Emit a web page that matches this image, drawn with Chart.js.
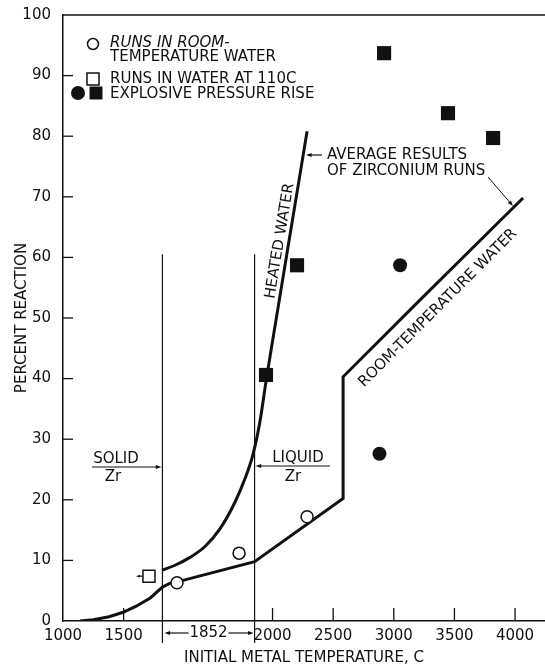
<!DOCTYPE html>
<html>
<head>
<meta charset="utf-8">
<script src="https://cdn.jsdelivr.net/npm/chart.js@4/dist/chart.umd.min.js"></script>
<style>
  html, body { margin: 0; padding: 0; background: #fff; }
</style>
</head>
<body>
<canvas id="grafico" width="545" height="669"></canvas>
<script>
// Eje X en "unidades de eje": la fusión del Zr (1852 C) ocupa una franja ancha
// entre MELT_START (sólido) y MELT_END (líquido); por encima se suma el salto.
const X_MIN = 1000;
const X_MAX = 4975;
const MELT_START = 1820;
const MELT_END = 2580;

// Ticks del eje X (posición en el eje y su etiqueta en grados C)
const xTickPos = [1000, 1500, 2728, 3228, 3728, 4228, 4728];
const xTickLabels = ['1000', '1500', '2000', '2500', '3000', '3500', '4000'];
const yTicks = [0, 10, 20, 30, 40, 50, 60, 70, 80, 90, 100];

// Curva promedio: agua calentada
const heatedX = [1816, 1924, 2047, 2171, 2294, 2418, 2501, 2567, 2625, 2674, 2748, 2872, 3013];
const heatedY = [8.4, 9.2, 10.5, 12.3, 15.2, 19.6, 23.5, 27.5, 33, 39.5, 48.6, 63.7, 80.8];

// Curva promedio: agua a temperatura ambiente
const roomX = [1140, 1250, 1380, 1490, 1600, 1720, 1820, 1880, 1950, 2580, 3310, 3310, 3945, 4794];
const roomY = [0, 0.2, 0.7, 1.4, 2.4, 3.8, 5.6, 6.2, 6.5, 9.8, 20.2, 40.3, 53, 69.8];

// Ensayos en agua a temperatura ambiente (círculos abiertos)
const roomRunsX = [1940, 2452, 3013];
const roomRunsY = [6.3, 11.2, 17.2];

// Ensayo en agua a 110 C (cuadrado abierto)
const hotRunsX = [1709];
const hotRunsY = [7.4];

// Subida explosiva de presión
const explSquaresX = [2674, 2930, 3648, 4175, 4547];
const explSquaresY = [40.6, 58.7, 93.7, 83.8, 79.7];
const explCirclesX = [3780, 3610];
const explCirclesY = [58.7, 27.6];

const FONT = '"DejaVu Sans", sans-serif';
const INK = '#111';

function puntos(xs, ys) {
  return xs.map((x, i) => ({ x: x, y: ys[i] }));
}

// Dibuja una línea con punta de flecha en (x2, y2)
function flecha(ctx, x1, y1, x2, y2, head) {
  head = head || 6;
  const ang = Math.atan2(y2 - y1, x2 - x1);
  ctx.beginPath();
  ctx.moveTo(x1, y1);
  ctx.lineTo(x2 - Math.cos(ang) * head * 0.8, y2 - Math.sin(ang) * head * 0.8);
  ctx.stroke();
  ctx.beginPath();
  ctx.moveTo(x2, y2);
  ctx.lineTo(x2 - head * Math.cos(ang - 0.35), y2 - head * Math.sin(ang - 0.35));
  ctx.lineTo(x2 - head * Math.cos(ang + 0.35), y2 - head * Math.sin(ang + 0.35));
  ctx.closePath();
  ctx.fill();
}

function texto(ctx, str, x, y, align, font) {
  ctx.font = font || ('15px ' + FONT);
  ctx.textAlign = align || 'center';
  ctx.textBaseline = 'middle';
  ctx.fillText(str, x, y);
}

// Marco superior, marcas interiores, leyenda y anotaciones
const anotaciones = {
  id: 'anotaciones',
  afterDraw(chart) {
    const ctx = chart.ctx;
    const xs = chart.scales.x;
    const ys = chart.scales.y;
    const area = chart.chartArea;
    ctx.save();
    ctx.strokeStyle = INK;
    ctx.fillStyle = INK;

    // línea superior del marco
    ctx.lineWidth = 1.5;
    ctx.beginPath();
    ctx.moveTo(area.left, area.top);
    ctx.lineTo(area.right, area.top);
    ctx.stroke();

    // marcas hacia dentro
    ctx.lineWidth = 1.3;
    yTicks.slice(1, -1).forEach(v => {
      const py = ys.getPixelForValue(v);
      ctx.beginPath();
      ctx.moveTo(area.left, py);
      ctx.lineTo(area.left + 10, py);
      ctx.stroke();
    });
    xTickPos.slice(1).forEach(v => {
      const px = xs.getPixelForValue(v);
      ctx.beginPath();
      ctx.moveTo(px, area.bottom);
      ctx.lineTo(px, area.bottom - 13);
      ctx.stroke();
    });

    // líneas de sólido / líquido
    ctx.lineWidth = 1.2;
    [MELT_START, MELT_END].forEach(v => {
      const px = xs.getPixelForValue(v);
      ctx.beginPath();
      ctx.moveTo(px, ys.getPixelForValue(60.5));
      ctx.lineTo(px, area.bottom + 22);
      ctx.stroke();
    });
    const sx = xs.getPixelForValue(MELT_START);
    const lx = xs.getPixelForValue(MELT_END);

    texto(ctx, 'SOLID', 116, 459);
    texto(ctx, 'Zr', 113, 477);
    flecha(ctx, 92, 467, sx - 1, 467);
    texto(ctx, 'LIQUID', 298, 458);
    texto(ctx, 'Zr', 293, 477);
    flecha(ctx, 330, 466, lx + 1, 466);

    const my = area.bottom + 12;
    const mx = (sx + lx) / 2;
    texto(ctx, '1852', mx, my);
    flecha(ctx, mx - 20, my, sx + 2, my);
    flecha(ctx, mx + 20, my, lx - 1, my);

    // flecha del cuadrado abierto
    const qx = xs.getPixelForValue(hotRunsX[0]);
    const qy = ys.getPixelForValue(hotRunsY[0]);
    flecha(ctx, qx - 6, qy, qx - 13, qy, 4);

    // rótulos de las curvas
    ctx.save();
    ctx.translate(280, 241);
    ctx.rotate(-80.5 * Math.PI / 180);
    texto(ctx, 'HEATED WATER', 0, 0);
    ctx.restore();

    ctx.save();
    ctx.translate(438, 308);
    ctx.rotate(-45 * Math.PI / 180);
    texto(ctx, 'ROOM-TEMPERATURE WATER', 0, 0);
    ctx.restore();

    texto(ctx, 'AVERAGE RESULTS', 327, 155, 'left');
    texto(ctx, 'OF ZIRCONIUM RUNS', 327, 171, 'left');
    flecha(ctx, 322, 155, 306, 155);
    ctx.lineWidth = 1;
    flecha(ctx, 488, 177, 513, 206);

    // leyenda
    ctx.lineWidth = 1.5;
    ctx.fillStyle = '#fff';
    ctx.beginPath();
    ctx.arc(93, 44, 5.5, 0, Math.PI * 2);
    ctx.fill();
    ctx.stroke();
    ctx.fillRect(87, 73, 12, 12);
    ctx.strokeRect(87, 73, 12, 12);
    ctx.fillStyle = INK;
    ctx.beginPath();
    ctx.arc(78, 93, 7, 0, Math.PI * 2);
    ctx.fill();
    ctx.fillRect(89.5, 86.5, 13, 13);

    texto(ctx, 'RUNS IN ROOM-', 110, 43, 'left', 'oblique 15px ' + FONT);
    texto(ctx, 'TEMPERATURE WATER', 110, 57, 'left');
    texto(ctx, 'RUNS IN WATER AT 110C', 110, 79, 'left');
    texto(ctx, 'EXPLOSIVE PRESSURE RISE', 110, 94, 'left');

    ctx.restore();
  }
};

const ctx = document.getElementById('grafico').getContext('2d');

window.graficoZr = new Chart(ctx, {
  type: 'scatter',
  data: {
    datasets: [
      {
        label: 'Runs in room-temperature water',
        data: puntos(roomRunsX, roomRunsY),
        pointStyle: 'circle',
        pointRadius: 6,
        pointBackgroundColor: '#fff',
        pointBorderColor: INK,
        pointBorderWidth: 1.5,
      },
      {
        label: 'Runs in water at 110C',
        data: puntos(hotRunsX, hotRunsY),
        pointStyle: 'rect',
        pointRadius: 8.5,
        pointBackgroundColor: '#fff',
        pointBorderColor: INK,
        pointBorderWidth: 1.5,
      },
      {
        label: 'Explosive pressure rise',
        data: puntos(explSquaresX, explSquaresY),
        pointStyle: 'rect',
        pointRadius: 10,
        pointBackgroundColor: INK,
        pointBorderColor: INK,
        pointBorderWidth: 0,
      },
      {
        label: 'Explosive pressure rise (circles)',
        data: puntos(explCirclesX, explCirclesY),
        pointStyle: 'circle',
        pointRadius: 7,
        pointBackgroundColor: INK,
        pointBorderColor: INK,
        pointBorderWidth: 0,
      },
      {
        label: 'Heated water',
        data: puntos(heatedX, heatedY),
        showLine: true,
        borderColor: INK,
        borderWidth: 3,
        pointRadius: 0,
        cubicInterpolationMode: 'monotone',
      },
      {
        label: 'Room-temperature water',
        data: puntos(roomX, roomY),
        showLine: true,
        borderColor: INK,
        borderWidth: 3,
        pointRadius: 0,
        tension: 0,
      },
    ],
  },
  options: {
    responsive: false,
    animation: false,
    layout: { autoPadding: false, padding: { top: 15, right: 0, left: 0, bottom: 0 } },
    plugins: {
      legend: { display: false },
      tooltip: { enabled: false },
    },
    scales: {
      x: {
        type: 'linear',
        min: X_MIN,
        max: X_MAX,
        afterFit: (s) => {
          s.height = 48;
          s.paddingLeft = 0;
          s.paddingRight = 0;
        },
        afterBuildTicks: (s) => { s.ticks = xTickPos.map(v => ({ value: v })); },
        grid: { drawOnChartArea: false, drawTicks: false },
        border: { display: true, color: INK, width: 1.5 },
        ticks: {
          autoSkip: false,
          maxRotation: 0,
          padding: 6,
          color: INK,
          font: { family: FONT, size: 15 },
          callback: (v) => {
            const i = xTickPos.indexOf(v);
            return i >= 0 ? xTickLabels[i] : '';
          },
        },
        title: {
          display: true,
          text: 'INITIAL METAL TEMPERATURE, C',
          color: INK,
          font: { family: FONT, size: 15 },
          padding: { top: 0, bottom: 2 },
        },
      },
      y: {
        min: 0,
        max: 100,
        afterFit: (s) => {
          s.width = 63;
          s.paddingTop = 0;
          s.paddingBottom = 0;
        },
        afterBuildTicks: (s) => { s.ticks = yTicks.map(v => ({ value: v })); },
        grid: { drawOnChartArea: false, drawTicks: false },
        border: { display: true, color: INK, width: 1.5 },
        ticks: {
          padding: 12,
          color: INK,
          font: { family: FONT, size: 15 },
        },
        title: {
          display: true,
          text: 'PERCENT REACTION',
          color: INK,
          font: { family: FONT, size: 15 },
          padding: { top: 13, bottom: 0 },
        },
      },
    },
  },
  plugins: [anotaciones],
});
</script>
</body>
</html>
